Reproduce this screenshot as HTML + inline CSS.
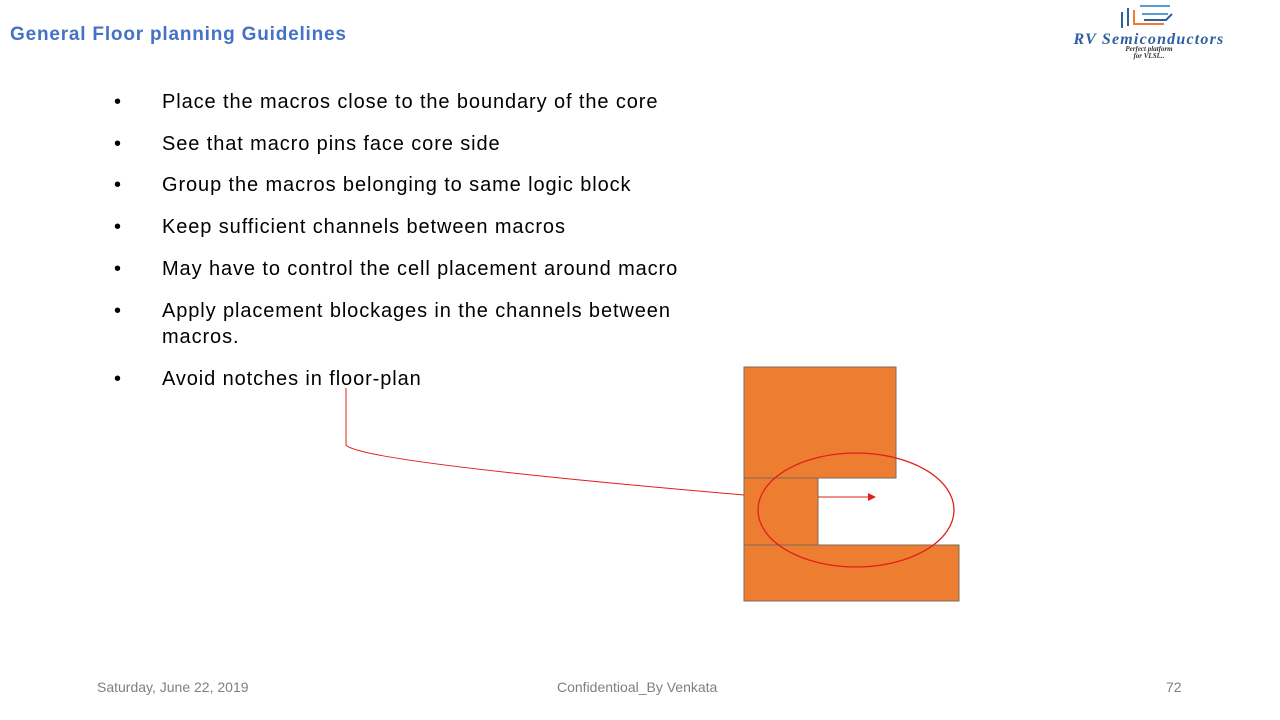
<!DOCTYPE html>
<html><head><meta charset="utf-8"><style>
body{margin:0;width:1280px;height:720px;background:#fff;position:relative;overflow:hidden;font-family:"Liberation Sans",sans-serif}
.t{position:absolute;left:10px;top:24px;font-size:19px;font-weight:bold;color:#4472c4;letter-spacing:0.8px}
.b{position:absolute;left:114px;font-size:20px;color:#000;line-height:26px}
.b span{position:absolute;left:48px;white-space:nowrap;letter-spacing:0.9px}
.f{position:absolute;top:679px;font-size:14px;color:#7f7f7f}
</style></head><body>
<div class="t">General Floor planning Guidelines</div>
<div class="b" style="top:89px">•<span>Place the macros close to the boundary of the core</span></div>
<div class="b" style="top:131px">•<span>See that macro pins face core side</span></div>
<div class="b" style="top:172px">•<span>Group the macros belonging to same logic block</span></div>
<div class="b" style="top:214px">•<span>Keep sufficient channels between macros</span></div>
<div class="b" style="top:256px">•<span>May have to control the cell placement around macro</span></div>
<div class="b" style="top:298px">•<span>Apply placement blockages in the channels between<br>macros.</span></div>
<div class="b" style="top:366px">•<span>Avoid notches in floor-plan</span></div>
<div style="position:absolute;left:1058px;top:2px;width:182px;text-align:center;color:#2e5f9e;font-family:'Liberation Serif',serif;font-style:italic;font-weight:bold;font-size:16px;line-height:12px;letter-spacing:1.2px">
<svg width="70" height="30" viewBox="0 0 70 30"><g fill="none" stroke-width="2"><path d="M8 10v16M14 6v18" stroke="#2e5f9e"/><path d="M20 8v14h30" stroke="#ed7d31"/><path d="M26 4h30M28 12h26" stroke="#5b9bd5"/><path d="M30 18h22l6-6" stroke="#2e5f9e"/></g></svg><br>RV Semiconductors<div style="font-size:7px;line-height:7px;color:#333;letter-spacing:0">Perfect platform<br>for VLSI...</div></div>
<svg style="position:absolute;left:0;top:0" width="1280" height="720">
<g fill="#ed7d31" stroke="#7f6a5a" stroke-width="1">
<rect x="744" y="367" width="152" height="111"/>
<rect x="744" y="478" width="74" height="67"/>
<rect x="744" y="545" width="215" height="56"/>
</g>
<ellipse cx="856" cy="510" rx="98" ry="57" fill="none" stroke="#e0201a" stroke-width="1.3"/>
<path d="M346 388V445Q360 462 744 495" fill="none" stroke="#e0201a" stroke-width="1"/>
<line x1="818" y1="497" x2="869" y2="497" stroke="#e0201a" stroke-width="1"/>
<polygon points="868,493 876,497 868,501" fill="#e0201a"/>
</svg>
<div class="f" style="left:97px">Saturday, June 22, 2019</div>
<div class="f" style="left:557px">Confidentioal_By Venkata</div>
<div class="f" style="left:1166px">72</div>
</body></html>
